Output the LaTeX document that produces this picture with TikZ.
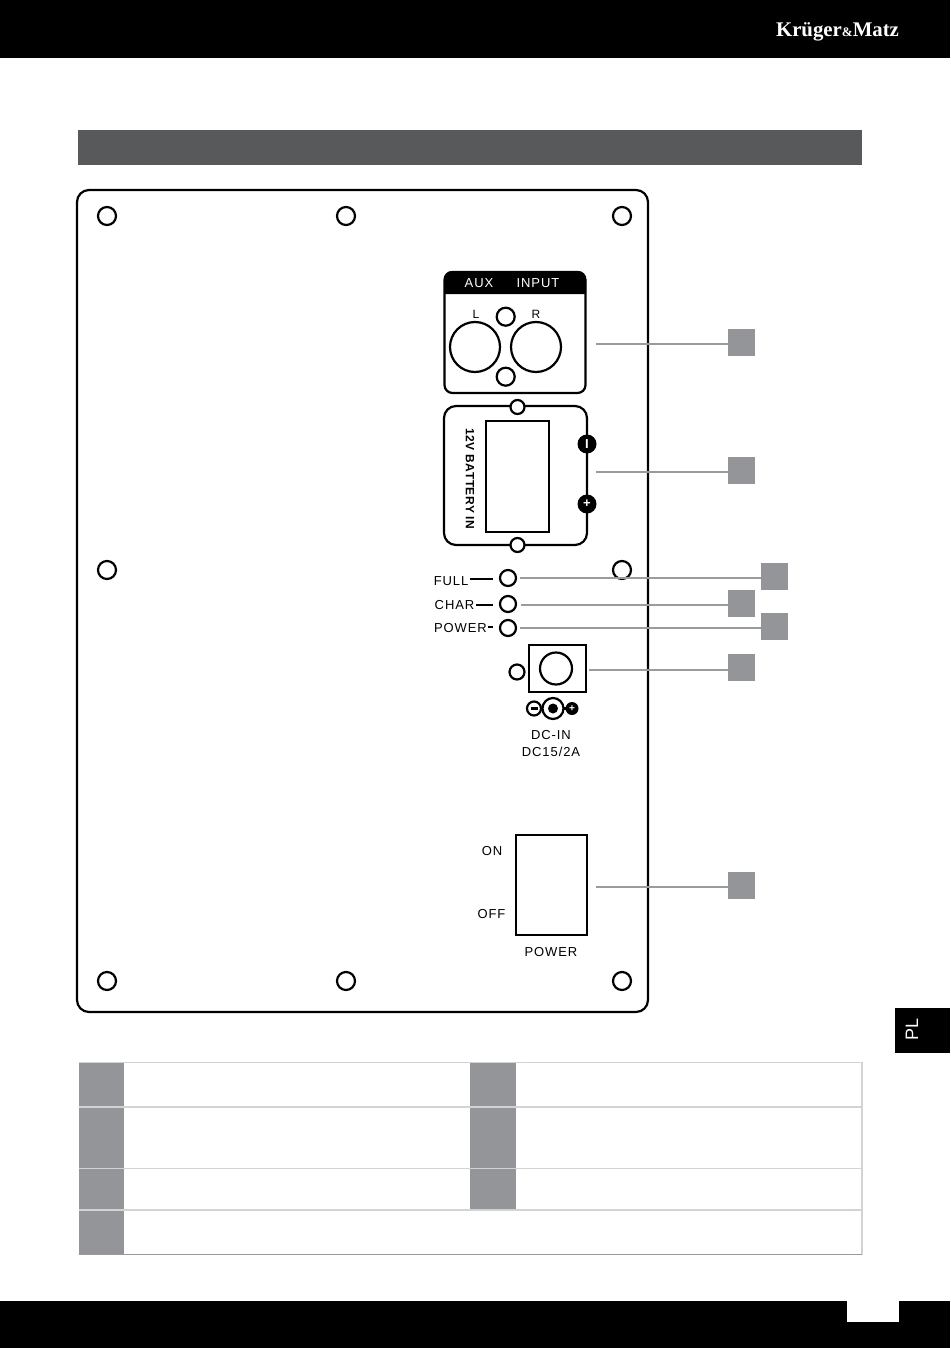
\documentclass[tikz,border=0pt]{standalone}
\usepackage{fontspec}
\setmainfont{Liberation Sans}
\newfontfamily\brandfont{Liberation Serif}
\newfontfamily\lblfont[LetterSpace=7]{Liberation Sans}
\newfontfamily\batfont[LetterSpace=4]{Liberation Sans}
\usetikzlibrary{positioning}
\definecolor{headgray}{HTML}{58595B}
\definecolor{numgray}{HTML}{939598}
\definecolor{leadgray}{HTML}{9A9B9D}
\definecolor{rulegray}{HTML}{D1D3D4}
\tikzset{
    panelline/.style={line width=2.2pt},
    hole/.style={circle,draw,panelline,fill=white,inner sep=0pt,minimum size=#1},
    lbl/.style={inner sep=0pt,font=\lblfont\fontsize{13}{14}\selectfont},
    numbox/.style={fill=numgray,inner sep=0pt,minimum size=27pt},
    leader/.style={draw=leadgray,line width=2.2pt},
    blackdot/.style={circle,fill=black,text=white,inner sep=0pt,minimum size=#1,font=\bfseries\fontsize{13}{13}\selectfont},
}
\begin{document}
\begin{tikzpicture}[x=1pt,y=-1pt]
    \useasboundingbox (0,0) rectangle (950,1348);

    % draw page furniture
    \fill[black] (0,0) rectangle (950,58);
    \fill[black] (0,1301) rectangle (950,1348);
    \fill[white] (847,1300) rectangle (899,1322);
    \fill[black] (895,1008) rectangle (950,1053);
    \fill[headgray] (78,130) rectangle (862,165);
    \node[text=white,font=\brandfont\bfseries\fontsize{20.8}{22}\selectfont,inner sep=0pt] (brand) at (837.5,32) {Krüger{\fontsize{13}{13}\selectfont\&}Matz};
    \node[text=white,rotate=90,font=\fontsize{18}{18}\selectfont,inner sep=0pt] (tab) at (912,1029.5) {PL};

    % draw panel and its screw holes
    \draw[panelline,rounded corners=12pt] (77,190) rectangle (648,1012);
    \foreach \x/\y/\n in {107/216/a,346/216/b,622/216/c,107/570/d,622/570/e,107/981/f,346/981/g,622/981/h}
    \node[hole=18pt] (screw\n) at (\x,\y) {};

    % draw aux input
    \draw[panelline,rounded corners=8pt] (444.5,272) rectangle (585.5,393);
    \fill[black] (444,294) [rounded corners=8pt] -- (444,271) -- (586,271) [sharp corners] -- (586,294) -- cycle;
    \node[lbl,text=white] (aux) at (479,283.5) {AUX};
    \node[lbl,text=white] (input) at (538,283.5) {INPUT};
    \node[lbl,font=\lblfont\fontsize{12}{12}\selectfont] (chl) at (476,314) {L};
    \node[lbl,font=\lblfont\fontsize{12}{12}\selectfont] (chr) at (536,314) {R};
    \node[hole=50pt] (jackl) at (475,347) {};
    \node[hole=50pt] (jackr) at (536,347) {};
    \node[hole=18pt] (auxtop) at (505.7,316.7) {};
    \node[hole=18pt] (auxbot) at (505.7,376.7) {};

    % draw battery input
    \draw[panelline,rounded corners=12pt] (444,406) rectangle (587,545);
    \draw[panelline] (485.7,421) rectangle (549,531.7);
    \node[hole=14pt] (battop) at (517.5,407) {};
    \node[hole=14pt] (batbot) at (517.5,545) {};
    \node[lbl,rotate=-90,font=\batfont\bfseries\fontsize{12}{12}\selectfont] (batlbl) at (470,479) {12V BATTERY IN};
    \node[blackdot=19pt] (batminus) at (587,444) {I};
    \node[blackdot=19pt] (batplus) at (587,504) {+};

    % draw leds
    \foreach \y/\n in {578/full,604/char,628/power}
    \node[hole=16pt] (led\n) at (508,\y) {};
    \node[lbl,anchor=east] (lblfull) at (468.5,581) {FULL};
    \node[lbl,anchor=east] (lblchar) at (474.5,605) {CHAR};
    \node[lbl,anchor=east] (lblpower) at (487,628) {POWER};
    \draw[panelline] (lblfull.east) ++(1.5,-2) -- ++(23,0);
    \draw[panelline] (lblchar.east) ++(1.5,0) -- ++(17,0);
    \draw[panelline] (lblpower.east) ++(1,-1) -- ++(5,0);

    % draw dc jack
    \node[hole=15pt] (dcside) at (517,672) {};
    \draw[panelline] (529,645) rectangle (586,692);
    \node[hole=32pt] (dcjack) at (556,668.5) {};
    \node[hole=14pt] (polminus) at (534,708.5) {};
    \draw[panelline] (530.5,708.5) -- (537.5,708.5);
    \draw[panelline] (polminus) -- (572,708.5);
    \node[hole=21pt] (polring) at (553,708.5) {};
    \node[blackdot=10pt] (polcore) at (553,708.5) {};
    \node[blackdot=13pt,font=\bfseries\fontsize{10}{10}\selectfont] (polplus) at (572,708.5) {+};
    \node[lbl] (dcin) at (551,735.5) {DC-IN};
    \node[lbl] (dcrate) at (551,751.5) {DC15/2A};

    % draw power switch
    \draw[panelline] (515.7,834.7) rectangle (586.7,935);
    \node[lbl] (swon) at (492,851.5) {ON};
    \node[lbl] (swoff) at (491.5,914.5) {OFF};
    \node[lbl] (swname) at (551,952.5) {POWER};

    % draw numbered boxes with their leaders
    \foreach \n/\x/\y in {1/728/342.5,2/728/470.5,3/761/576.5,4/728/603.5,5/761/626.5,6/728/667.5,7/728/885.5}{
        \node[numbox,anchor=west] (num\n) at (\x,\y) {};
    }
    \foreach \n/\s/\y in {1/596/344,2/596/472,3/520/578.3,4/521/605,5/520/628,6/589/670,7/596/887}{
        \coordinate (lead\n) at (\s,\y);
        \draw[leader] (lead\n) -- (lead\n -| num\n.west);
    }

    % draw table
    \fill[numgray] (78.5,1062) rectangle (123.5,1254.5);
    \fill[numgray] (470,1062) rectangle (515.5,1210);
    \foreach \y in {1062.5,1107,1168.5,1210}
    \draw[rulegray,line width=1.4pt] (78.5,\y) -- (862,\y);
    \draw[rulegray,line width=1.4pt] (862,1062) -- (862,1255);
    \draw[leadgray,line width=1pt] (78.5,1254.5) -- (862,1254.5);
\end{tikzpicture}
\end{document}
